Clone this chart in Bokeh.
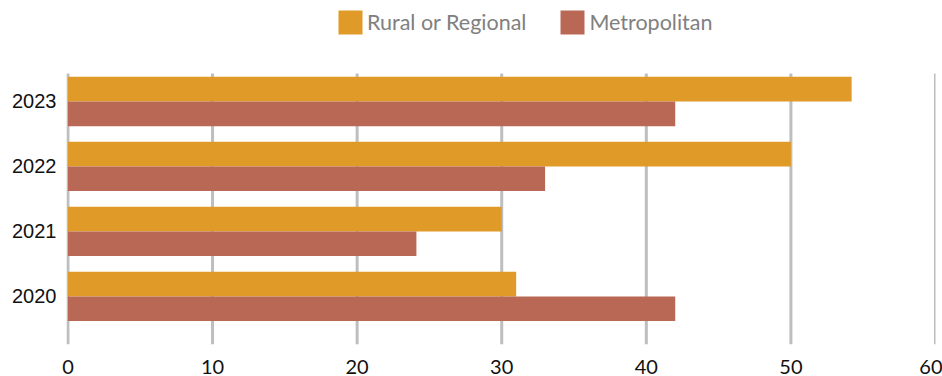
from bokeh.plotting import figure
from bokeh.models import Range1d, FixedTicker, Legend, LegendItem
from bokeh.embed import file_html
from bokeh.resources import INLINE

years = ["2020", "2021", "2022", "2023"]
rural = [31, 30, 50, 54.2]
metro = [42, 24.1, 33, 42]
x_ticks = [0, 10, 20, 30, 40, 50, 60]

RURAL_C = "#E09A27"
METRO_C = "#BA6856"

idx = list(range(len(years)))
bar_h = 0.38
y_rural = [i + bar_h / 2 for i in idx]
y_metro = [i - bar_h / 2 for i in idx]

y_bottom = -0.74
grid_top = 3.43
px_per_unit = 65.0
y_top = grid_top + 73 / px_per_unit  # room above the grid for the legend

p = figure(width=942, height=376, output_backend="svg", toolbar_location=None,
           x_range=Range1d(-0.1, 60), y_range=Range1d(y_bottom, y_top),
           min_border_left=66, min_border_right=7, min_border_top=0, min_border_bottom=31)

# vertical gridlines (limited to the chart area, below the legend)
p.segment(x0=x_ticks, x1=x_ticks, y0=[y_bottom] * len(x_ticks), y1=[grid_top] * len(x_ticks),
          line_color="#BDBEC0", line_width=3)

r1 = p.hbar(y=y_rural, right=rural, left=0, height=bar_h, color=RURAL_C, line_color=None)
r2 = p.hbar(y=y_metro, right=metro, left=0, height=bar_h, color=METRO_C, line_color=None)

p.outline_line_color = None
p.xgrid.grid_line_color = None
p.ygrid.grid_line_color = None

p.xaxis.ticker = FixedTicker(ticks=x_ticks)
p.xaxis.axis_line_color = None
p.xaxis.major_tick_line_color = None
p.xaxis.minor_tick_line_color = None
p.xaxis.major_label_standoff = 9
p.xaxis.major_label_text_font = "Lato"
p.xaxis.major_label_text_font_size = "20px"
p.xaxis.major_label_text_color = "#111111"

p.yaxis.ticker = FixedTicker(ticks=idx)
p.yaxis.major_label_overrides = {i: y for i, y in zip(idx, years)}
p.yaxis.axis_line_color = None
p.yaxis.major_tick_line_color = None
p.yaxis.minor_tick_line_color = None
p.yaxis.major_label_standoff = 4
p.yaxis.major_label_text_font = "Liberation Sans"
p.yaxis.major_label_text_font_size = "20px"
p.yaxis.major_label_text_color = "#111111"

legend = Legend(items=[LegendItem(label="Rural or Regional", renderers=[r1]),
                       LegendItem(label="Metropolitan", renderers=[r2])],
                orientation="horizontal", location=(269, 307))
legend.glyph_width = 30
legend.glyph_height = 30
legend.label_standoff = 2
legend.spacing = 31
legend.padding = 0
legend.margin = 0
legend.border_line_color = None
legend.background_fill_alpha = 0
legend.label_text_font = "Lato"
legend.label_text_font_size = "21.5px"
legend.label_text_color = "#808080"
p.add_layout(legend, "center")

open("out.html", "w").write(file_html(p, INLINE))
